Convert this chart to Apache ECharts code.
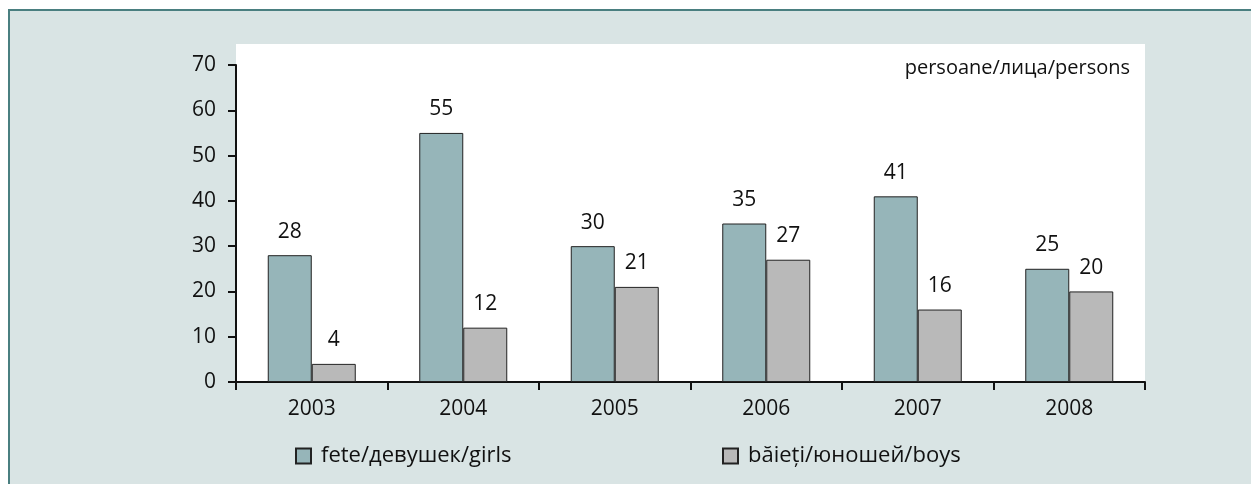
<!DOCTYPE html>
<html>
<head>
<meta charset="utf-8">
<script src="https://cdn.jsdelivr.net/npm/echarts@6/dist/echarts.min.js"></script>
<style>
  html, body { margin: 0; padding: 0; background: #fff; overflow: hidden; }
  #frame {
    position: absolute; left: 8px; top: 9px; width: 1300px; height: 500px;
    background: #d9e4e4; border-top: 2px solid #4a7f80; border-left: 2px solid #4a7f80;
  }
  #chart { position: absolute; left: 0; top: 0; width: 1251px; height: 484px; }
</style>
</head>
<body>
<div id="frame"></div>
<div id="chart"></div>
<script>
// data
var years = ['2003', '2004', '2005', '2006', '2007', '2008'];
var girls = [28, 55, 30, 35, 41, 25];
var boys = [4, 12, 21, 27, 16, 20];
var girlsName = 'fete/девушек/girls';
var boysName = 'băieți/юношей/boys';
var unitText = 'persoane/лица/persons';

var font = '"Open Sans", "DejaVu Sans", sans-serif';
var ink = '#111';
var myChart = echarts.init(document.getElementById('chart'));

var legendText = { fontFamily: font, fontSize: 22, color: ink, padding: [0, 0, 0, 5] };

var option = {
    animation: false,
    textStyle: { fontFamily: font },
    title: {
        text: unitText,
        right: 121,
        top: 58,
        padding: 0,
        textStyle: { fontFamily: font, fontSize: 20, fontWeight: 'normal', color: ink }
    },
    graphic: [{
        type: 'rect',
        z: -1,
        shape: { x: 236, y: 44, width: 909, height: 22 },
        style: { fill: '#fff' }
    }],
    legend: [{
        data: [girlsName],
        left: 295, top: 445, padding: 0,
        icon: 'rect', itemWidth: 15, itemHeight: 15,
        textStyle: legendText
    }, {
        data: [boysName],
        left: 722, top: 445, padding: 0,
        icon: 'rect', itemWidth: 15, itemHeight: 15,
        textStyle: legendText
    }],
    grid: {
        left: 236, right: 106, top: 65, bottom: 102,
        show: true, backgroundColor: '#fff', borderWidth: 0
    },
    xAxis: {
        type: 'category',
        data: years,
        axisLine: { lineStyle: { color: ink, width: 2 } },
        axisTick: { show: true, length: 8, lineStyle: { color: ink, width: 2 } },
        axisLabel: { fontSize: 21, color: ink, margin: 17, fontFamily: font }
    },
    yAxis: {
        type: 'value',
        min: 0, max: 70, interval: 10,
        splitLine: { show: false },
        axisLine: { show: true, lineStyle: { color: ink, width: 2 } },
        axisTick: { show: true, length: 8, lineStyle: { color: ink, width: 2 } },
        axisLabel: { fontSize: 21, color: ink, margin: 20, fontFamily: font }
    },
    series: [{
        name: girlsName,
        type: 'bar',
        data: girls,
        barWidth: 44,
        barGap: '0%',
        itemStyle: { color: '#96b5b9', borderColor: '#222', borderWidth: 1 },
        label: { show: true, position: 'top', distance: 13, fontSize: 21, color: ink, fontFamily: font }
    }, {
        name: boysName,
        type: 'bar',
        data: boys,
        barWidth: 44,
        barGap: '0%',
        itemStyle: { color: '#b9b9b9', borderColor: '#222', borderWidth: 1 },
        label: { show: true, position: 'top', distance: 13, fontSize: 21, color: ink, fontFamily: font }
    }]
};
myChart.setOption(option);
</script>
</body>
</html>
